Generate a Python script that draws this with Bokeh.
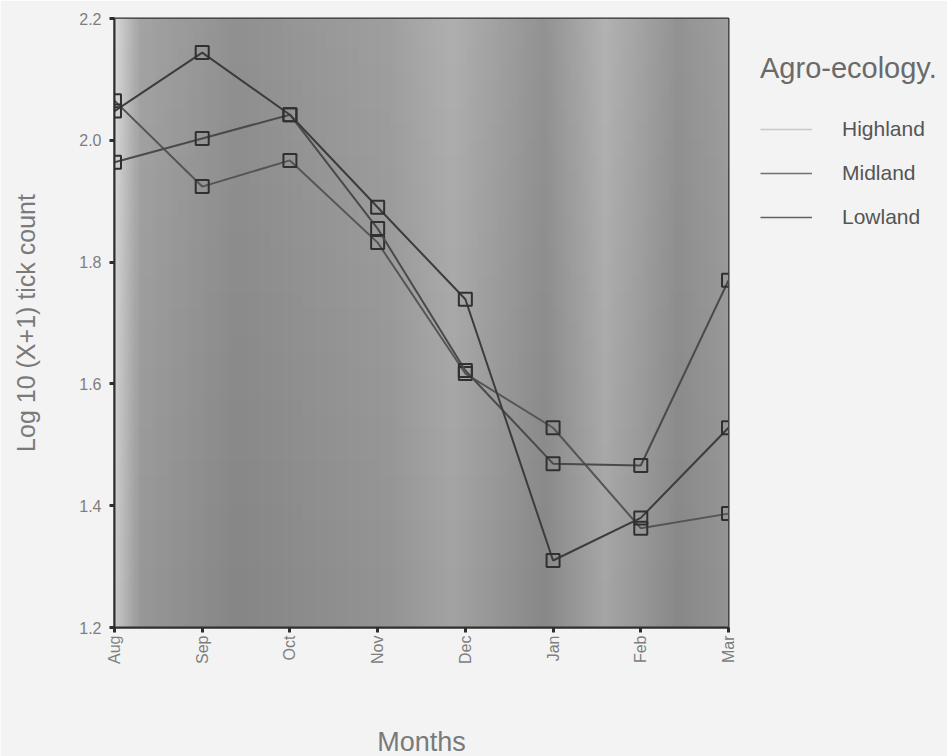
import numpy as np
from bokeh.plotting import figure
from bokeh.models import Legend, LegendItem, FixedTicker, Range1d
from bokeh.embed import file_html
from bokeh.resources import INLINE

months = ["Aug", "Sep", "Oct", "Nov", "Dec", "Jan", "Feb", "Mar"]
highland = [2.065, 1.924, 1.967, 1.832, 1.617, 1.528, 1.363, 1.387]
midland = [1.964, 2.003, 2.042, 1.855, 1.622, 1.469, 1.466, 1.770]
lowland = [2.048, 2.144, 2.042, 1.890, 1.739, 1.310, 1.380, 1.528]
y_ticks = [1.2, 1.4, 1.6, 1.8, 2.0, 2.2]

series_names = ["Highland", "Midland", "Lowland"]
series_values = [highland, midland, lowland]
line_colors = ["#555555", "#4a4a4a", "#3c3c3c"]
legend_colors = ["#c8c8c8", "#707070", "#606060"]

xs = list(range(len(months)))

p = figure(frame_width=614, frame_height=609, output_backend="svg", toolbar_location=None,
           x_range=Range1d(0, len(months) - 1), y_range=Range1d(1.2, 2.2),
           min_border_left=114, min_border_top=18, min_border_right=215,
           min_border_bottom=128)
p.background_fill_color = "#ffffff"
p.border_fill_color = "#f3f3f3"
p.outline_line_color = "#2e2e2e"
p.outline_line_width = 2
p.xgrid.grid_line_color = None
p.ygrid.grid_line_color = None

# shaded background of the plot area (decorative gradient)
ctrl_x = [0.0, 0.04, 0.2, 0.45, 0.55, 0.7, 0.8, 0.92, 1.0]
ctrl_g = [200, 152, 134, 148, 163, 136, 166, 136, 148]
n = 300
g = np.interp(np.linspace(0, 1, n), ctrl_x, ctrl_g).astype(np.uint32)
rows = 40
vert = np.linspace(1.0, 1.08, rows)[:, None]
gg = np.clip(g[None, :] * vert, 0, 255).astype(np.uint32)
img = (255 << 24) | (gg << 16) | (gg << 8) | gg
p.image_rgba(image=[img.astype(np.uint32)], x=0, y=1.2, dw=len(months) - 1, dh=1.0)

items = []
for name, vals, lc, legc in zip(series_names, series_values, line_colors, legend_colors):
    p.line(xs, vals, line_color=lc, line_width=2)
    p.scatter(xs, vals, marker="square", size=13, fill_color=None,
              line_color="#303030", line_width=2)
    dummy = p.line([0, 0], [0, 0], line_color=legc, line_width=1.5, visible=True)
    items.append(LegendItem(label=name, renderers=[dummy]))

legend = Legend(items=items, title="Agro-ecology.", location=(32, 398),
                title_text_font="Liberation Sans", title_text_font_size="29px",
                title_text_color="#6a6a6a", title_text_font_style="normal",
                title_standoff=32,
                label_text_font="Liberation Sans", label_text_font_size="21px",
                label_text_color="#555555", label_standoff=30,
                glyph_width=52, glyph_height=24, spacing=20,
                background_fill_alpha=0, border_line_color=None,
                margin=0, padding=0)
p.add_layout(legend, "right")

p.xaxis.ticker = FixedTicker(ticks=xs)
p.xaxis.major_label_overrides = {i: m for i, m in enumerate(months)}
p.xaxis.major_label_orientation = np.pi / 2
p.yaxis.ticker = FixedTicker(ticks=y_ticks)
p.yaxis.major_label_overrides = {t: f"{t:.1f}" for t in y_ticks}

for ax in (p.xaxis[0], p.yaxis[0]):
    ax.axis_line_color = "#2e2e2e"
    ax.axis_line_width = 2
    ax.major_tick_line_color = "#2e2e2e"
    ax.major_tick_line_width = 3
    ax.major_tick_out = 5
    ax.major_tick_in = 0
    ax.minor_tick_line_color = None
    ax.major_label_text_font = "Liberation Sans"
    ax.major_label_text_font_size = "16px"
    ax.major_label_text_color = "#7e7e7e"
    ax.axis_label_text_font = "Liberation Sans"
    ax.axis_label_text_color = "#7a7a7a"
    ax.axis_label_text_font_style = "normal"

p.xaxis.axis_label = "Months"
p.xaxis.axis_label_text_font_size = "27px"
p.xaxis.axis_label_standoff = 60
p.xaxis.major_label_standoff = 3
p.yaxis.axis_label = "Log 10 (X+1) tick count"
p.yaxis.axis_label_text_font_size = "25px"
p.yaxis.axis_label_standoff = 36
p.yaxis.major_label_standoff = 8

open("out.html", "w").write(file_html(p, INLINE))
